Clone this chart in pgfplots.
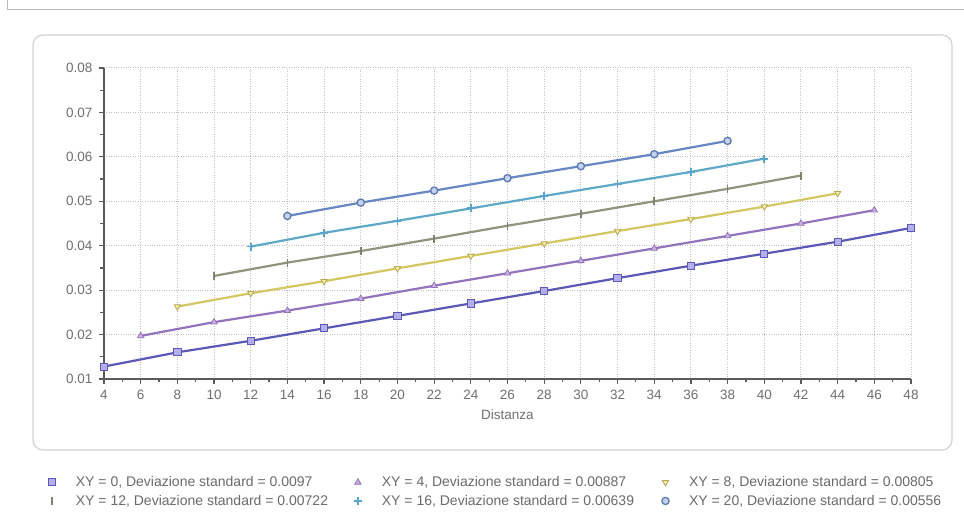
\documentclass[border=0pt]{standalone}
\usepackage{pgfplots}
\pgfplotsset{compat=1.18}
\usepackage{fontspec}
\setmainfont{Liberation Sans}
\definecolor{axisgray}{HTML}{5A5A5A}
\definecolor{gridgray}{HTML}{C2C2C2}
\definecolor{labelgray}{HTML}{707070}
\definecolor{cA}{HTML}{5C58B8}\definecolor{cAf}{HTML}{B4AEEC}
\definecolor{cB}{HTML}{9274BC}\definecolor{cBf}{HTML}{D0B0E0}
\definecolor{cC}{HTML}{D4C660}\definecolor{cCf}{HTML}{F2EAA8}
\definecolor{cD}{HTML}{90947E}\definecolor{cDm}{HTML}{7E8270}
\definecolor{cE}{HTML}{5FA8C8}\definecolor{cEm}{HTML}{5AA4CC}
\definecolor{cF}{HTML}{6686C4}\definecolor{cFf}{HTML}{C4D2EE}
\begin{document}
\begin{tikzpicture}
\useasboundingbox (0pt,0pt) rectangle (964pt,529pt);
\fill[white] (0pt,0pt) rectangle (964pt,529pt);
\draw[gray!55, line width=1pt] (7pt,529pt) -- (7pt,519pt) -- (964pt,519pt);
\draw[gray!35, line width=1.2pt, rounded corners=10pt] (33pt,79pt) rectangle (952pt,494pt);
\begin{axis}[
  at={(104pt,150pt)}, anchor=south west,
  scale only axis, width=807pt, height=311pt,
  xmin=4, xmax=48, ymin=0.01, ymax=0.08,
  xtick={4,6,8,10,12,14,16,18,20,22,24,26,28,30,32,34,36,38,40,42,44,46,48},
  ytick={0.01,0.02,0.03,0.04,0.05,0.06,0.07,0.08},
  scaled y ticks=false,
  minor x tick num=1, minor y tick num=1,
  axis lines=left,
  axis line style={draw=axisgray, line width=1.6pt, -},
  tick align=outside,
  major tick length=5pt, minor tick length=3.5pt,
  tick style={draw=axisgray, line width=1.2pt},
  grid=major,
  major grid style={dotted, draw=gridgray, line width=1pt},
  /pgf/number format/assume math mode=true,
  ticklabel style={font=\fontsize{13.5}{15}\selectfont, text=labelgray},
  xticklabel style={yshift=-3pt},
  yticklabel style={xshift=-3pt, /pgf/number format/fixed, /pgf/number format/precision=2, /pgf/number format/fixed zerofill},
  xlabel={Distanza},
  xlabel style={font=\fontsize{13.5}{15}\selectfont, text=labelgray, yshift=-3pt},
  legend columns=3,
  legend cell align=left,
  legend style={at={(-0.0725,-0.30)}, anchor=north west, draw=none, fill=none,
    font=\fontsize{14}{16}\selectfont, text=axisgray!90,
    /tikz/every odd column/.append style={column sep=18pt},
    row sep=3pt},
  legend image code/.code={\draw[#1, only marks] plot coordinates {(0pt,0pt)};},
  clip=false,
]
\addplot[cA, line width=2.2pt, mark=square*, mark size=3.6pt, mark options={fill=cAf, draw=cA, line width=0.9pt}]
coordinates {(4,0.0128) (8,0.0160) (12,0.0186) (16,0.0214) (20,0.0242) (24,0.0270) (28,0.0298) (32,0.0327) (36,0.0355) (40,0.0382) (44,0.0409) (48,0.0440)};
\addlegendentry{\makebox[276pt][l]{XY = 0, Deviazione standard = 0.0097}}
\addplot[cB, line width=2.2pt, mark=triangle*, mark size=3.6pt, mark options={fill=cBf, draw=cB, line width=0.8pt}]
coordinates {(6,0.0197) (10,0.0228) (14,0.0254) (18,0.0281) (22,0.0310) (26,0.0338) (30,0.0366) (34,0.0394) (38,0.0422) (42,0.0450) (46,0.0480)};
\addlegendentry{\makebox[278pt][l]{XY = 4, Deviazione standard = 0.00887}}
\addplot[cC, line width=2.2pt, mark=triangle*, mark size=3.6pt, mark options={rotate=180, fill=cCf, draw=cC!85!black, line width=0.8pt}]
coordinates {(8,0.0263) (12,0.0293) (16,0.0320) (20,0.0349) (24,0.0377) (28,0.0405) (32,0.0433) (36,0.0460) (40,0.0488) (44,0.0518)};
\addlegendentry{XY = 8, Deviazione standard = 0.00805}
\addplot[cD, line width=2.2pt, mark=|, mark size=4pt, mark options={draw=cDm, line width=1.8pt}]
coordinates {(10,0.0332) (14,0.0362) (18,0.0388) (22,0.0416) (26,0.0445) (30,0.0472) (34,0.0500) (38,0.0528) (42,0.0558)};
\addlegendentry{\makebox[276pt][l]{XY = 12, Deviazione standard = 0.00722}}
\addplot[cE, line width=2.2pt, mark=+, mark size=4pt, mark options={draw=cEm, line width=1.8pt}]
coordinates {(12,0.0398) (16,0.0429) (20,0.0456) (24,0.0484) (28,0.0512) (32,0.0539) (36,0.0566) (40,0.0596)};
\addlegendentry{\makebox[278pt][l]{XY = 16, Deviazione standard = 0.00639}}
\addplot[cF, line width=2.2pt, mark=*, mark size=3.6pt, mark options={fill=cFf, draw=cF!90!black, line width=1.3pt}]
coordinates {(14,0.0467) (18,0.0497) (22,0.0524) (26,0.0552) (30,0.0579) (34,0.0606) (38,0.0636)};
\addlegendentry{XY = 20, Deviazione standard = 0.00556}
\end{axis}
\end{tikzpicture}
\end{document}
